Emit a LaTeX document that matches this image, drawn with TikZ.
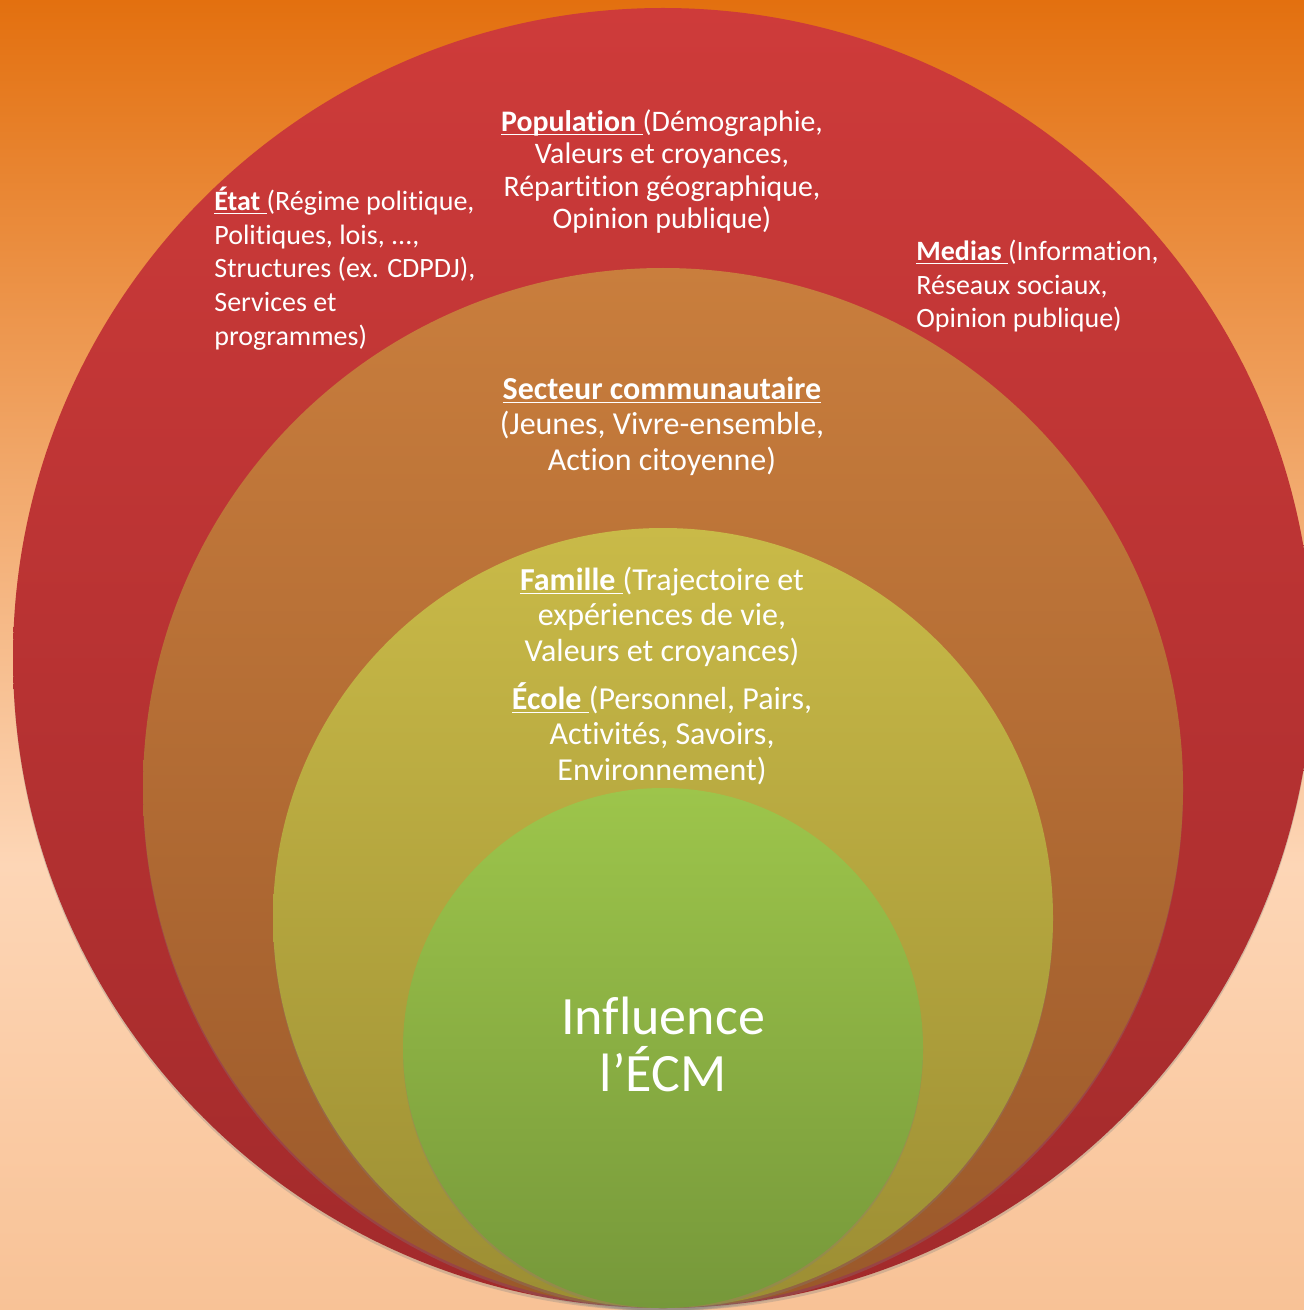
\documentclass[tikz,border=0pt]{standalone}
\usepackage{fontspec}
\setmainfont{Carlito}[Ligatures=NoCommon]
\usetikzlibrary{shadows}

\definecolor{bgtop}{HTML}{E3700F}
\definecolor{bgmid}{HTML}{FDD6B6}
\definecolor{bgbot}{HTML}{F8C296}
\definecolor{redtop}{HTML}{CE3B3A}
\definecolor{redbot}{HTML}{A22A2B}
\definecolor{orangetop}{HTML}{C97E3D}
\definecolor{orangebot}{HTML}{9A582A}
\definecolor{yellowtop}{HTML}{C9BA48}
\definecolor{yellowbot}{HTML}{9C8E33}
\definecolor{greentop}{HTML}{9DC54B}
\definecolor{greenbot}{HTML}{76983A}
\pgfdeclareverticalshading{backdrop}{100bp}{color(0bp)=(bgbot); color(25bp)=(bgbot); color(42bp)=(bgmid); color(75bp)=(bgtop); color(100bp)=(bgtop)}

\newcommand{\keyw}[1]{\underbar{\textbf{#1}\ }}

\begin{document}
\begin{tikzpicture}[x=0.5pt, y=-0.5pt,
    ring/.style={circle, inner sep=0pt, draw=none,
        drop shadow={shadow xshift=0pt, shadow yshift=-1.5pt, opacity=.3}},
    outertext/.style={text=white, inner sep=0pt, font=\fontsize{14.9}{16.25}\selectfont},
    sidetext/.style={text=white, inner sep=0pt, font=\fontsize{14}{16.75}\selectfont},
    innertext/.style={text=white, inner sep=0pt, font=\fontsize{16}{17.7}\selectfont}]
    \useasboundingbox (0,0) rectangle (1304,1310);
    \shade[shading=backdrop] (0,0) rectangle (1304,1310);

    \node[ring, minimum size=650pt, top color=redtop, bottom color=redbot] (societe) at (663,658) {};
    \node[ring, minimum size=520pt, top color=orangetop, bottom color=orangebot] (communaute) at (663,788) {};
    \node[ring, minimum size=390pt, top color=yellowtop, bottom color=yellowbot] (milieu) at (663,918) {};
    \node[ring, minimum size=260pt, top color=greentop, bottom color=greenbot] (ecm) at (663,1048) {};

    \node[outertext, align=center, anchor=base] (population) at (662,229)
        {\keyw{Population}(Démographie,\\ Valeurs et croyances,\\ Répartition géographique,\\ Opinion publique)};
    \node[sidetext, align=left, anchor=base west] (etat) at (214,345)
        {\keyw{État}(Régime politique,\\ Politiques, lois, ...,\\ Structures (ex. CDPDJ),\\ Services et\\ programmes)};
    \node[sidetext, align=left, anchor=base west] (medias) at (916,328)
        {\keyw{Medias}(Information,\\ Réseaux sociaux,\\ Opinion publique)};

    \node[innertext, align=center, anchor=base] (secteur) at (662,470)
        {\underbar{\textbf{Secteur communautaire}}\\ (Jeunes, Vivre-ensemble,\\ Action citoyenne)};
    \node[innertext, align=center, anchor=base] (famille) at (662,661)
        {\keyw{Famille}(Trajectoire et\\ expériences de vie,\\ Valeurs et croyances)};
    \node[innertext, align=center, anchor=base] (ecole) at (662,780)
        {\keyw{École}(Personnel, Pairs,\\ Activités, Savoirs,\\ Environnement)};

    \node[text=white, align=center, anchor=base, inner sep=0pt,
        font=\fontsize{27}{28.5}\selectfont] (influence) at (663,1091)
        {Influence\\ l’ÉCM};
\end{tikzpicture}
\end{document}
